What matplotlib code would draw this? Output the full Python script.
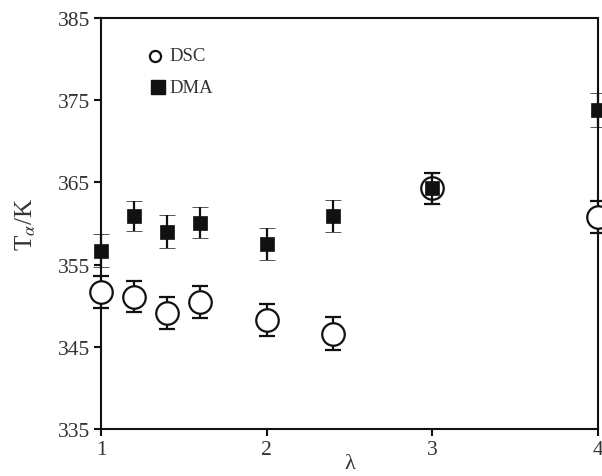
import matplotlib
matplotlib.use("Agg")
import matplotlib.pyplot as plt

plt.rcParams['font.family'] = ['Liberation Serif', 'DejaVu Serif']
plt.rcParams['mathtext.fontset'] = 'stix'

lam = [1.0, 1.2, 1.4, 1.6, 2.0, 2.4, 3.0, 4.0]
dsc = [351.7, 351.1, 349.1, 350.5, 348.3, 346.6, 364.3, 360.8]
dsc_err = [1.95, 1.9, 1.95, 1.95, 1.95, 2.0, 1.9, 1.9]
dma = [356.7, 360.9, 359.0, 360.1, 357.5, 360.9, 364.3, 373.8]
dma_err = [2.0, 1.85, 2.0, 1.9, 2.0, 1.95, 1.95, 2.05]
xticks = [1, 2, 3, 4]
yticks = [335, 345, 355, 365, 375, 385]

fig = plt.figure(figsize=(6.02, 4.77), dpi=100)
ax = fig.add_axes([101/602, 1-430/477, 497/602, 411/477])

tc = '#333333'
ax.errorbar(lam, dsc, yerr=dsc_err, fmt='o', ms=16.2, mfc='white', mec='#111111',
            mew=1.6, ecolor='#111111', elinewidth=1.6, capsize=6, capthick=1.6,
            clip_on=False, zorder=3, label='DSC')
ax.errorbar(lam, dma, yerr=dma_err, fmt='s', ms=9.5, mfc='#111111', mec='#111111',
            mew=0.5, ecolor='#111111', elinewidth=1.6, capsize=6, capthick=1.6,
            clip_on=False, zorder=4, label='DMA')

ax.set_xlim(1, 4)
ax.set_ylim(335, 385)
ax.set_xticks(xticks)
ax.set_yticks(yticks)
ax.tick_params(direction='out', length=5, width=1.5, labelsize=15.5, colors='#111111',
               labelcolor=tc, pad=3)
for s in ax.spines.values():
    s.set_linewidth(1.5)
    s.set_color('#111111')

ax.set_xlabel('λ', fontsize=16, color=tc, labelpad=-4)
ax.set_ylabel(r'T$_{\alpha}$/K', fontsize=18, color=tc, labelpad=14)

# legend
ax.plot([1.326], [380.4], 'o', ms=8, mfc='white', mec='#111111', mew=1.6)
ax.text(1.415, 380.4, 'DSC', fontsize=13.5, va='center', ha='left', color=tc)
ax.plot([1.344], [376.6], 's', ms=9.5, mfc='#111111', mec='#111111')
ax.text(1.415, 376.6, 'DMA', fontsize=13.5, va='center', ha='left', color=tc)

fig.savefig('out.png', dpi=100)
